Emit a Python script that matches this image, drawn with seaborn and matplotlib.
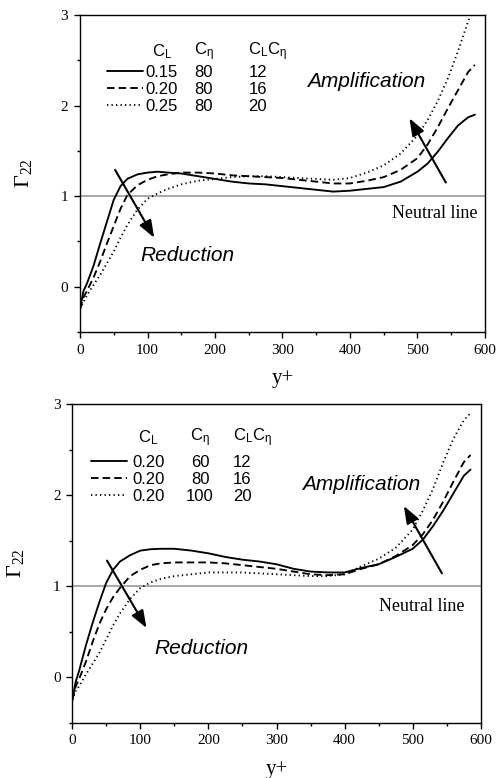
import matplotlib
matplotlib.use("Agg")
import matplotlib.pyplot as plt
from matplotlib.ticker import MultipleLocator
import numpy as np
import pandas as pd
import seaborn as sns

# ---------------- data ----------------
yplus = [0, 5, 10, 20, 30, 40, 50, 60, 70, 85, 100, 115, 130, 150, 175, 200, 225, 250,
         275, 300, 325, 350, 375, 400, 425, 450, 475, 500, 515, 530, 545, 560, 575, 585]

# top panel: C_eta = 80, C_L varies
top_cl015 = [-0.25, -0.05, 0.03, 0.23, 0.48, 0.72, 0.96, 1.11, 1.19, 1.24, 1.26, 1.27, 1.26, 1.25,
             1.22, 1.19, 1.16, 1.14, 1.13, 1.11, 1.09, 1.07, 1.05, 1.06, 1.08, 1.10, 1.16, 1.27,
             1.36, 1.49, 1.64, 1.78, 1.87, 1.90]
top_cl020 = [-0.25, -0.12, -0.05, 0.10, 0.28, 0.48, 0.67, 0.86, 1.01, 1.12, 1.18, 1.22, 1.24, 1.26,
             1.26, 1.25, 1.23, 1.22, 1.21, 1.20, 1.18, 1.16, 1.14, 1.14, 1.17, 1.21, 1.29, 1.42,
             1.57, 1.76, 1.97, 2.17, 2.37, 2.45]
top_cl025 = [-0.25, -0.17, -0.10, 0.02, 0.13, 0.26, 0.39, 0.54, 0.68, 0.85, 0.97, 1.03, 1.08, 1.13,
             1.17, 1.19, 1.21, 1.22, 1.22, 1.21, 1.20, 1.19, 1.18, 1.20, 1.26, 1.34, 1.47, 1.67,
             1.84, 2.05, 2.30, 2.60, 2.93, 3.12]

# bottom panel: C_L = 0.20, C_eta varies
bot_ce60 = [-0.25, -0.05, 0.07, 0.35, 0.60, 0.83, 1.04, 1.18, 1.27, 1.34, 1.39, 1.405, 1.41, 1.41,
            1.39, 1.36, 1.32, 1.29, 1.27, 1.24, 1.19, 1.16, 1.15, 1.15, 1.20, 1.24, 1.32, 1.41,
            1.51, 1.66, 1.83, 2.02, 2.21, 2.28]
bot_ce80 = [-0.25, -0.10, -0.02, 0.17, 0.39, 0.59, 0.75, 0.88, 0.98, 1.11, 1.18, 1.23, 1.25, 1.26,
            1.26, 1.26, 1.25, 1.23, 1.21, 1.19, 1.16, 1.13, 1.12, 1.13, 1.19, 1.24, 1.33, 1.45,
            1.57, 1.73, 1.93, 2.15, 2.36, 2.44]
bot_ce100 = [-0.25, -0.15, -0.10, 0.03, 0.15, 0.27, 0.42, 0.57, 0.70, 0.86, 0.98, 1.04, 1.08, 1.11,
             1.13, 1.15, 1.15, 1.15, 1.14, 1.13, 1.12, 1.11, 1.11, 1.13, 1.22, 1.30, 1.42, 1.62,
             1.83, 2.07, 2.36, 2.62, 2.82, 2.90]

top_cl = ["0.15", "0.20", "0.25"]
top_ce = ["80", "80", "80"]
top_prod = ["12", "16", "20"]
bot_cl = ["0.20", "0.20", "0.20"]
bot_ce = ["60", "80", "100"]
bot_prod = ["12", "16", "20"]

x_ticks = [0, 100, 200, 300, 400, 500, 600]
y_ticks = [0, 1, 2, 3]

# ---------------- style ----------------
sns.set_style("ticks")
plt.rcParams["font.family"] = ["Liberation Serif", "DejaVu Serif"]
plt.rcParams["mathtext.fontset"] = "custom"
plt.rcParams["mathtext.rm"] = "Liberation Sans"
plt.rcParams["mathtext.it"] = "Liberation Sans:italic"
plt.rcParams["mathtext.default"] = "regular"
for key in ["text.color", "axes.labelcolor", "xtick.color", "ytick.color",
            "xtick.labelcolor", "ytick.labelcolor", "axes.edgecolor"]:
    plt.rcParams[key] = "black"

SANS = ["Liberation Sans", "DejaVu Sans"]
SERIF = ["Liberation Serif", "DejaVu Serif"]

fig = plt.figure(figsize=(4.96, 7.78), dpi=100)
ax_top = fig.add_axes([0.1613, 0.5733, 0.8165, 0.4074])
ax_bot = fig.add_axes([0.1458, 0.0711, 0.8234, 0.4096])

dash_map = {0: "", 1: (4.0, 2.2), 2: (0.7, 1.7)}


def make_df(series):
    rows = []
    for k, vals in enumerate(series):
        for x, v in zip(yplus, vals):
            rows.append({"y+": x, "G": v, "case": k})
    return pd.DataFrame(rows)


def draw_panel(ax, series, col1, col2, col3, leg_anchor, handlelen, textpad,
               col2_x, col2_ha, col3_x, head_x, head_y,
               red_txt, red_arrow, amp_txt, amp_arrow, neu_txt):
    df = make_df(series)
    sns.lineplot(data=df, x="y+", y="G", style="case", dashes=dash_map,
                 color="black", linewidth=1.35, legend=False, ax=ax, sort=False)
    ax.axhline(1.0, color="#9a9a9a", lw=1.2, zorder=1)

    ax.set_xlim(0, 600)
    ax.set_ylim(-0.5, 3)
    ax.set_xticks(x_ticks)
    ax.set_yticks(y_ticks)
    ax.set_xticklabels([str(v) for v in x_ticks])
    ax.set_yticklabels([str(v) for v in y_ticks])
    ax.xaxis.set_minor_locator(MultipleLocator(50))
    ax.yaxis.set_minor_locator(MultipleLocator(0.5))
    ax.tick_params(which="both", direction="out", top=False, right=False,
                   colors="black", width=1.0)
    ax.tick_params(which="major", length=4.5, pad=4, labelsize=11)
    ax.tick_params(which="minor", length=2.5)
    for lab in ax.get_xticklabels() + ax.get_yticklabels():
        lab.set_fontfamily(SERIF)
        lab.set_color("black")
    for sp in ax.spines.values():
        sp.set_visible(True)
        sp.set_color("black")
        sp.set_linewidth(1.0)

    ax.set_xlabel("y+", fontsize=15, family=SERIF, labelpad=9, color="black")
    ax.set_ylabel(r"$\mathregular{\Gamma_{22}}$", fontsize=16, family=SERIF,
                  labelpad=19, color="black")

    # legend (first column with line keys)
    lines = ax.get_lines()[:3]
    leg = ax.legend(lines, col1, loc="center left", bbox_to_anchor=leg_anchor,
                    frameon=False, prop={"family": SANS, "size": 12},
                    handlelength=handlelen, handletextpad=textpad,
                    labelspacing=0.12, borderpad=0, borderaxespad=0,
                    labelcolor="black")
    fig.canvas.draw()
    r = fig.canvas.get_renderer()
    inv = ax.transAxes.inverted()
    for t, c2, c3 in zip(leg.get_texts(), col2, col3):
        bb = t.get_window_extent(r)
        yc = inv.transform(((bb.x0 + bb.x1) / 2, (bb.y0 + bb.y1) / 2))[1]
        ax.text(col2_x, yc, c2, transform=ax.transAxes, family=SANS, size=12,
                ha=col2_ha, va="center", color="black")
        ax.text(col3_x, yc, c3, transform=ax.transAxes, family=SANS, size=12,
                ha="left", va="center", color="black")
    heads = [r"$\mathregular{C_L}$", r"$\mathregular{C_\eta}$", r"$\mathregular{C_LC_\eta}$"]
    for hx, h in zip(head_x, heads):
        ax.text(hx, head_y, h, transform=ax.transAxes, family=SANS, size=12,
                ha="left", va="center", color="black")

    # annotations
    ax.text(red_txt[0], red_txt[1], "Reduction", family=SANS, style="italic",
            size=15, ha="left", va="center", color="black")
    ax.text(amp_txt[0], amp_txt[1], "Amplification", family=SANS, style="italic",
            size=15, ha="left", va="center", color="black")
    ax.text(neu_txt[0], neu_txt[1], "Neutral line", family=SERIF, size=13,
            ha="left", va="center", color="black")
    arrow_kw = dict(arrowstyle="-|>,head_length=0.75,head_width=0.28",
                    color="black", lw=1.5, mutation_scale=14, shrinkA=0, shrinkB=0)
    ax.annotate("", xy=red_arrow[1], xytext=red_arrow[0], arrowprops=arrow_kw)
    ax.annotate("", xy=amp_arrow[1], xytext=amp_arrow[0], arrowprops=arrow_kw)


draw_panel(ax_top, [top_cl015, top_cl020, top_cl025], top_cl, top_ce, top_prod,
           leg_anchor=(0.0667, 0.765), handlelen=2.15, textpad=0.18,
           col2_x=0.306, col2_ha="center", col3_x=0.416,
           head_x=[0.177, 0.282, 0.415], head_y=0.885,
           red_txt=(89, 0.34), red_arrow=((52, 1.29), (110, 0.54)),
           amp_txt=(336, 2.27), amp_arrow=((542, 1.15), (488, 1.86)),
           neu_txt=(462, 0.81))

draw_panel(ax_bot, [bot_ce60, bot_ce80, bot_ce100], bot_cl, bot_ce, bot_prod,
           leg_anchor=(0.045, 0.764), handlelen=2.2, textpad=0.3,
           col2_x=0.3127, col2_ha="center", col3_x=0.394,
           head_x=[0.160, 0.288, 0.394], head_y=0.893,
           red_txt=(121, 0.31), red_arrow=((51, 1.28), (109, 0.54)),
           amp_txt=(338, 2.12), amp_arrow=((543, 1.14), (487, 1.88)),
           neu_txt=(451, 0.78))

fig.savefig("out.png", dpi=100)
